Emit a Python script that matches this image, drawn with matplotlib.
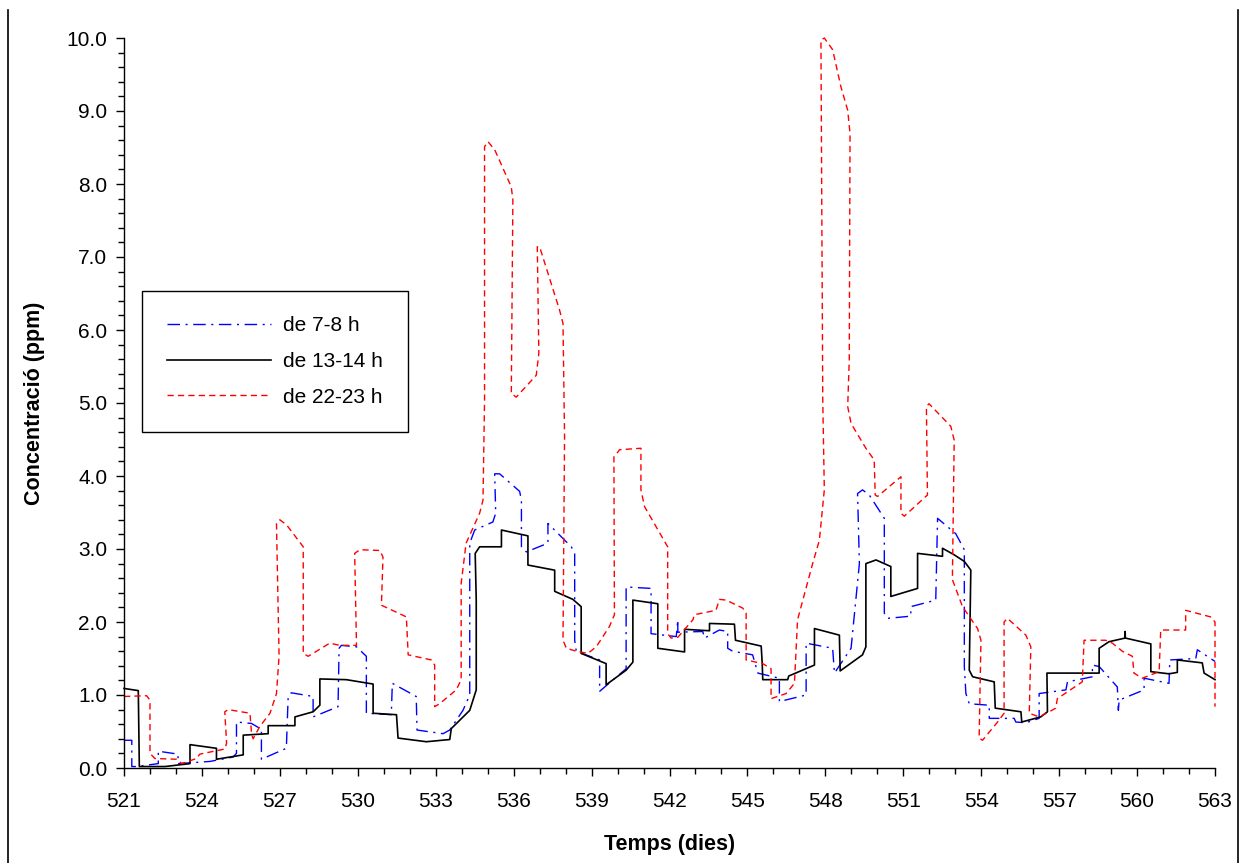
import matplotlib
matplotlib.use('Agg')
import matplotlib.pyplot as plt
import numpy as np
from matplotlib.lines import Line2D
from matplotlib.ticker import MultipleLocator, FormatStrFormatter

# series: (day, ppm) pairs
h7_days = [521.0, 521.3, 521.3, 521.48, 522.32, 522.32, 523.08, 523.08, 524.31, 525.2,
           525.33, 525.33, 525.91, 526.29, 526.29, 527.25, 527.32, 527.44, 528.28, 528.28,
           529.24, 529.28, 529.37, 529.95, 530.33, 530.33, 531.29, 531.33, 532.25, 532.28,
           533.28, 533.54, 534.05, 534.31, 534.31, 534.5, 535.2, 535.31, 535.27, 535.46,
           536.23, 536.3, 536.3, 536.49, 537.32, 537.32, 538.22, 538.35, 538.35, 538.41,
           539.31, 539.31, 540.33, 540.33, 541.29, 541.29, 542.26, 542.32, 542.32, 543.28,
           543.35, 543.92, 544.24, 544.24, 544.43, 545.2, 545.4, 546.23, 546.23, 547.26,
           547.26, 548.28, 548.35, 548.99, 549.31, 549.24, 549.43, 549.69, 550.27, 550.27,
           550.4, 551.29, 551.29, 552.25, 552.32, 553.02, 553.35, 553.35, 553.41, 553.54,
           554.31, 554.31, 555.27, 555.33, 555.72, 556.23, 556.23, 557.26, 557.32, 558.28,
           558.28, 558.54, 559.24, 559.28, 559.31, 560.27, 560.27, 561.23, 561.26, 562.26,
           562.32, 563.0]
h7_ppm = [0.38, 0.38, 0.02, 0.02, 0.06, 0.23, 0.19, 0.06, 0.09, 0.15,
          0.20, 0.63, 0.61, 0.53, 0.12, 0.27, 0.98, 1.03, 0.98, 0.70,
          0.84, 1.64, 1.68, 1.66, 1.53, 0.75, 0.73, 1.16, 0.98, 0.52,
          0.47, 0.52, 0.79, 1.00, 3.08, 3.26, 3.37, 3.49, 4.03, 4.03,
          3.79, 3.67, 3.03, 2.96, 3.08, 3.35, 3.03, 2.94, 1.75, 1.60,
          1.48, 1.05, 1.36, 2.48, 2.46, 1.84, 1.80, 2.03, 1.86, 1.87,
          1.78, 1.89, 1.87, 1.64, 1.60, 1.55, 1.30, 1.23, 0.91, 1.00,
          1.71, 1.64, 1.30, 1.64, 2.80, 3.76, 3.81, 3.74, 3.42, 2.12,
          2.05, 2.08, 2.21, 2.30, 3.42, 3.21, 2.99, 1.39, 1.02, 0.88,
          0.86, 0.68, 0.68, 0.63, 0.62, 0.68, 1.02, 1.07, 1.18, 1.25,
          1.41, 1.39, 1.11, 0.79, 0.93, 1.07, 1.23, 1.16, 1.48, 1.50,
          1.62, 1.46]

h13_days = [521.0, 521.55, 521.59, 522.58, 523.54, 523.54, 524.56, 524.56, 525.59, 525.59,
            526.55, 526.55, 527.58, 527.58, 528.28, 528.54, 528.54, 529.56, 530.59, 530.59,
            531.49, 531.55, 532.64, 533.54, 533.6, 534.31, 534.56, 534.56, 534.52, 534.69,
            535.53, 535.53, 536.55, 536.55, 537.58, 537.58, 538.28, 538.6, 538.6, 539.56,
            539.56, 540.33, 540.59, 540.59, 541.55, 541.55, 542.58, 542.58, 543.54, 543.54,
            544.5, 544.54, 545.53, 545.57, 545.59, 546.55, 546.59, 547.58, 547.58, 548.54,
            548.57, 549.43, 549.56, 549.56, 549.95, 550.52, 550.52, 551.55, 551.55, 552.51,
            552.51, 552.96, 553.35, 553.6, 553.54, 553.67, 554.5, 554.54, 555.53, 555.56,
            556.29, 556.55, 556.53, 558.54, 558.54, 558.92, 559.54, 559.54, 559.55, 560.53,
            560.53, 561.23, 561.55, 561.55, 562.51, 562.58, 563.0]
h13_ppm = [1.09, 1.06, 0.02, 0.02, 0.06, 0.32, 0.27, 0.12, 0.18, 0.45,
           0.47, 0.58, 0.58, 0.70, 0.77, 0.86, 1.22, 1.21, 1.15, 0.75,
           0.73, 0.41, 0.36, 0.39, 0.54, 0.79, 1.07, 2.30, 2.94, 3.03,
           3.03, 3.26, 3.18, 2.78, 2.71, 2.42, 2.31, 2.21, 1.57, 1.43,
           1.14, 1.34, 1.45, 2.30, 2.25, 1.64, 1.59, 1.90, 1.88, 1.98,
           1.97, 1.75, 1.67, 1.43, 1.21, 1.21, 1.26, 1.41, 1.91, 1.82,
           1.33, 1.55, 1.66, 2.80, 2.85, 2.76, 2.35, 2.46, 2.94, 2.90,
           3.01, 2.92, 2.83, 2.71, 1.34, 1.25, 1.18, 0.82, 0.77, 0.63,
           0.70, 0.77, 1.30, 1.30, 1.64, 1.73, 1.78, 1.87, 1.78, 1.70,
           1.32, 1.29, 1.31, 1.48, 1.44, 1.30, 1.21]

h22_days = [521.0, 521.87, 522.0, 522.0, 522.19, 523.03, 523.22, 523.79, 523.92, 524.88,
            524.95, 524.88, 525.01, 525.85, 525.91, 525.97, 526.23, 526.62, 526.87, 526.97,
            526.87, 527.0, 527.26, 527.9, 527.9, 528.09, 528.92, 529.31, 529.95, 529.88,
            530.08, 530.85, 530.97, 530.91, 531.87, 531.94, 532.83, 532.96, 532.96, 533.15,
            533.79, 533.98, 533.98, 534.17, 534.69, 534.82, 534.88, 534.88, 535.01, 535.27,
            535.91, 535.97, 535.91, 536.1, 536.87, 536.97, 536.91, 537.0, 537.77, 537.9,
            537.96, 537.9, 538.03, 538.41, 538.86, 539.18, 539.69, 539.88, 539.86, 540.08,
            540.9, 540.9, 541.04, 541.93, 541.93, 542.06, 542.32, 542.9, 542.96, 543.79,
            543.92, 544.18, 544.82, 544.95, 544.95, 545.59, 545.91, 545.91, 546.49, 546.81,
            546.93, 547.51, 547.77, 547.96, 547.9, 547.83, 547.96, 548.28, 548.6, 548.86,
            548.95, 548.92, 548.86, 548.99, 549.56, 549.88, 549.92, 550.01, 550.91, 550.91,
            551.04, 551.93, 551.89, 551.99, 552.83, 552.96, 552.89, 553.28, 553.86, 553.99,
            553.92, 554.05, 554.63, 554.88, 554.88, 555.01, 555.72, 555.91, 555.85, 556.23,
            556.62, 556.87, 556.93, 557.89, 557.96, 558.79, 559.05, 559.43, 559.82, 559.88,
            560.2, 560.85, 560.91, 561.87, 561.87, 562.83, 563.0, 563.0]
h22_ppm = [0.98, 0.99, 0.93, 0.20, 0.13, 0.12, 0.06, 0.13, 0.19, 0.26,
           0.34, 0.77, 0.80, 0.75, 0.47, 0.40, 0.57, 0.75, 1.02, 1.53,
           3.35, 3.40, 3.33, 3.03, 1.57, 1.53, 1.71, 1.68, 1.68, 2.94,
           2.99, 2.98, 2.89, 2.23, 2.07, 1.55, 1.48, 1.41, 0.84, 0.88,
           1.07, 1.21, 2.53, 3.08, 3.49, 3.67, 5.04, 8.51, 8.58, 8.47,
           7.96, 7.78, 5.13, 5.08, 5.38, 5.68, 7.14, 7.14, 6.27, 6.09,
           4.54, 1.75, 1.64, 1.60, 1.57, 1.66, 1.94, 2.10, 4.26, 4.36,
           4.38, 3.81, 3.58, 3.03, 1.84, 1.78, 1.79, 2.03, 2.10, 2.16,
           2.31, 2.30, 2.19, 2.12, 1.48, 1.43, 1.36, 0.95, 1.02, 1.16,
           2.03, 2.80, 3.12, 3.81, 5.04, 9.97, 10.0, 9.84, 9.33, 9.01,
           8.69, 5.59, 4.95, 4.72, 4.38, 4.22, 3.74, 3.72, 3.99, 3.49,
           3.45, 3.74, 4.95, 4.99, 4.68, 4.49, 2.58, 2.21, 1.91, 1.75,
           0.41, 0.38, 0.63, 0.75, 2.00, 2.05, 1.82, 1.66, 0.75, 0.70,
           0.77, 0.82, 0.95, 1.18, 1.75, 1.75, 1.71, 1.60, 1.53, 1.30,
           1.23, 1.32, 1.89, 1.89, 2.16, 2.07, 2.00, 0.84]

labels = ['de 7-8 h', 'de 13-14 h', 'de 22-23 h']
day_ticks = np.arange(521, 564, 3)

if __name__ == '__main__':
	plt.rcParams['font.family'] = 'Liberation Sans'
	plt.rcParams['font.size'] = 15

	fig = plt.figure(figsize=(12.44, 8.63), dpi=100)
	ax = fig.add_axes([124 / 1244, 1 - 768 / 863, 1091 / 1244, 730 / 863])

	ax.plot(h7_days, h7_ppm, color='#0000ff', linewidth=1.0,
	        linestyle=(0, (9, 4, 1.5, 4)), label=labels[0], clip_on=False)
	ax.plot(h13_days, h13_ppm, color='#000000', linewidth=1.2,
	        linestyle='-', label=labels[1], clip_on=False)
	ax.plot(h22_days, h22_ppm, color='#ff0000', linewidth=1.0,
	        linestyle=(0, (4.5, 3)), label=labels[2], clip_on=False)

	ax.set_xlim(521, 563)
	ax.set_ylim(0, 10)
	ax.set_xticks(day_ticks)
	ax.xaxis.set_minor_locator(MultipleLocator(1))
	ax.yaxis.set_major_locator(MultipleLocator(1))
	ax.yaxis.set_minor_locator(MultipleLocator(0.2))
	ax.yaxis.set_major_formatter(FormatStrFormatter('%.1f'))

	ax.spines['top'].set_visible(False)
	ax.spines['right'].set_visible(False)
	ax.spines['left'].set_linewidth(1.0)
	ax.spines['bottom'].set_linewidth(1.0)
	ax.tick_params(axis='both', which='major', direction='out', length=6, width=1.0, labelsize=15)
	ax.tick_params(axis='both', which='minor', direction='out', length=4, width=1.0)
	ax.tick_params(axis='x', which='major', pad=11)
	ax.tick_params(axis='y', which='major', pad=6)

	ax.set_xlabel('Temps (dies)', fontsize=15.5, fontweight='bold', va='center')
	ax.set_ylabel('Concentració (ppm)', fontsize=15.5, fontweight='bold', va='center')
	ax.xaxis.set_label_coords(0.5, -0.105)
	ax.yaxis.set_label_coords(-0.0816, 0.5)

	leg = ax.legend(loc='upper left', bbox_to_anchor=(0.0165, 0.653), borderaxespad=0,
	                fancybox=False, framealpha=1, edgecolor='black', fontsize=15,
	                handlelength=5.0, handletextpad=0.55, borderpad=1.2, labelspacing=0.8)
	leg.get_frame().set_linewidth(1.0)

	# frame lines at the left and right of the picture
	fig.add_artist(Line2D([8 / 1244, 8 / 1244], [0, 853 / 863], transform=fig.transFigure,
	                      color='black', linewidth=1.2))
	fig.add_artist(Line2D([1238 / 1244, 1238 / 1244], [0, 853 / 863], transform=fig.transFigure,
	                      color='black', linewidth=1.2))

	fig.savefig('out.png', dpi=100)
